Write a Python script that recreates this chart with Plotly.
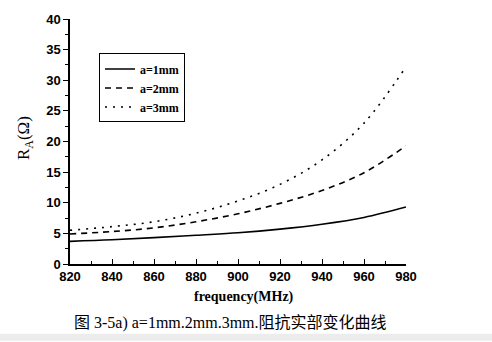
import plotly.graph_objects as go

# Frequency sweep (MHz) and real part of antenna impedance R_A (ohm)
freq = [820, 840, 860, 880, 900, 920, 940, 960, 980]
r_a1 = [3.7, 3.95, 4.3, 4.7, 5.1, 5.7, 6.5, 7.6, 9.3]
r_a2 = [4.9, 5.3, 5.9, 6.9, 8.2, 9.9, 12.0, 14.9, 19.3]
r_a3 = [5.5, 6.1, 6.9, 8.3, 10.3, 13.0, 17.0, 23.0, 32.2]
series_names = ["a=1mm", "a=2mm", "a=3mm"]

x_ticks = [820, 840, 860, 880, 900, 920, 940, 960, 980]
y_ticks = [0, 5, 10, 15, 20, 25, 30, 35, 40]

W, H = 492, 342
ML, MR, MT, MB = 70, 86, 15, 78
PW, PH = W - ML - MR, H - MT - MB

tick_font = dict(family="Liberation Sans, Arial", size=13, color="black", weight="bold")
serif = "Liberation Serif, Times New Roman, serif"

fig = go.Figure()
dashes = ["solid", "6px,5px", "2px,6px"]
for ys, name, d in zip([r_a1, r_a2, r_a3], series_names, dashes):
    fig.add_trace(go.Scatter(
        x=freq, y=ys, name=name, mode="lines",
        line=dict(color="black", width=1.6, shape="spline", dash=d),
    ))

fig.update_layout(
    width=W, height=H,
    margin=dict(l=ML, r=MR, t=MT, b=MB),
    paper_bgcolor="white", plot_bgcolor="white",
    showlegend=True,
    legend=dict(
        x=(99 - ML) / PW, y=(H - MB - 50) / PH, xanchor="left", yanchor="top",
        bordercolor="black", borderwidth=1, bgcolor="white",
        font=dict(family=serif, size=12, color="black", weight="bold"),
        tracegroupgap=0, itemwidth=30,
    ),
)
fig.update_xaxes(
    range=[820, 980], tickvals=x_ticks, ticktext=[str(v) for v in x_ticks],
    showline=True, linecolor="black", linewidth=1.5, mirror=False,
    ticks="inside", ticklen=5, tickwidth=1.2, tickcolor="black",
    minor=dict(ticks="inside", ticklen=3, dtick=10, tickcolor="black", tickwidth=1),
    showgrid=False, zeroline=False, tickfont=tick_font,
)
fig.update_yaxes(
    range=[0, 40], tickvals=y_ticks, ticktext=[str(v) for v in y_ticks],
    showline=True, linecolor="black", linewidth=1.5, mirror=False,
    ticks="outside", ticklen=5, tickwidth=1.2, tickcolor="black",
    minor=dict(ticks="outside", ticklen=3, dtick=2.5, tickcolor="black", tickwidth=1),
    showgrid=False, zeroline=False, tickfont=tick_font,
)

# Text placed by pixel position, converted to plot-area paper coordinates
labels = [
    dict(text="R<sub>A</sub>(Ω)", px=25, py=136, textangle=-90,
         font=dict(family=serif, size=17, color="black")),
    dict(text="<b>frequency(MHz)</b>", px=244, py=298,
         font=dict(family=serif, size=14, color="black")),
    dict(text="图 3-5a) a=1mm.2mm.3mm.阻抗实部变化曲线", px=72, py=324, xanchor="left",
         font=dict(family="Liberation Serif, Noto Sans CJK SC", size=16, color="black")),
]
for a in labels:
    px, py = a.pop("px"), a.pop("py")
    fig.add_annotation(
        x=(px - ML) / PW, y=(H - MB - py) / PH, xref="paper", yref="paper",
        showarrow=False, xanchor=a.pop("xanchor", "center"), yanchor="middle", **a,
    )

# Light grey strip along the bottom edge
fig.add_shape(type="rect", xref="paper", yref="paper",
              x0=-ML / PW, x1=(W - ML) / PW,
              y0=(H - MB - H) / PH, y1=(H - MB - 335) / PH,
              fillcolor="#ececec", line=dict(width=0), layer="below")

fig.write_html("out.html")
